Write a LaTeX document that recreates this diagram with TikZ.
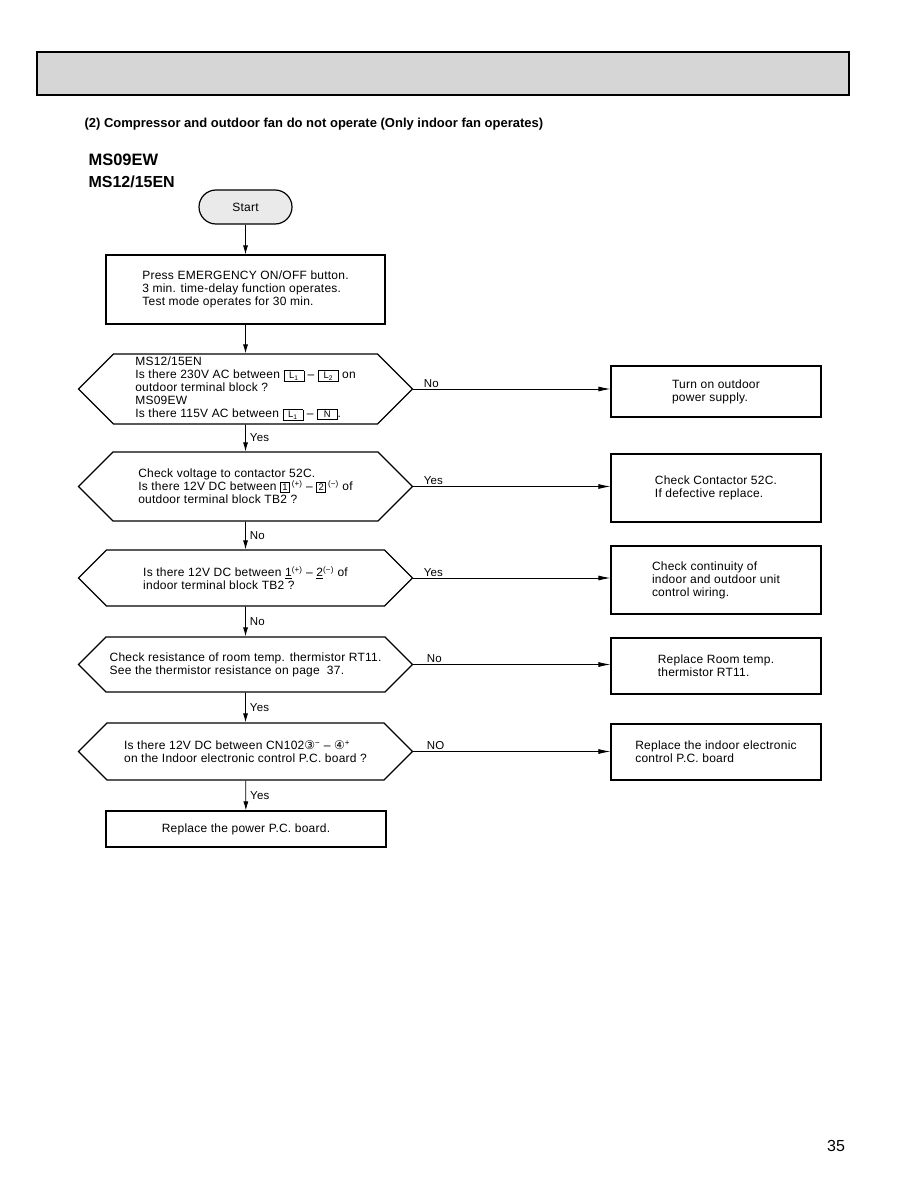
\documentclass[tikz,border=0pt]{standalone}
\usepackage{fontspec}
\setmainfont{Liberation Sans}
\newfontfamily\bodyfont{Liberation Sans}[LetterSpace=2]
\newfontfamily\circfont{DejaVu Sans}
\usetikzlibrary{arrows.meta,positioning,shapes.symbols}
\definecolor{bannergray}{RGB}{214,214,214}
\definecolor{startgray}{RGB}{234,234,234}
% boxed terminal mark
\newcommand{\tbox}[2][17pt]{{\setlength{\fboxsep}{1.2pt}\setlength{\fboxrule}{0.6pt}\fbox{\makebox[#1]{\fontsize{9.5}{10}\selectfont #2}}}}

\begin{document}
\begin{tikzpicture}[x=1pt,y=-1pt,>={Latex[length=9pt,width=5pt]},
    font=\bodyfont\fontsize{12}{13}\selectfont,
    box/.style={draw,line width=1.2pt,minimum width=210pt,align=left,inner sep=0pt},
    dec/.style={draw,line width=1.2pt,signal,signal to=west and east,signal pointer angle=90,
      minimum width=334pt,align=left,inner sep=0pt},
    arr/.style={->,line width=.8pt},
    harr/.style={-{Latex[length=12pt,width=5pt]},line width=.8pt},
    lbl/.style={font=\bodyfont\fontsize{11.5}{13}\selectfont,inner sep=1pt}]
  \useasboundingbox (0,0) rectangle (918,1188);
  % heading
  \node[draw,line width=1.8pt,fill=bannergray,minimum width=812pt,minimum height=43pt,inner sep=0pt] (banner) at (443,73.5) {};
  \node[anchor=west,font=\normalfont\bfseries\fontsize{13}{15}\selectfont] (title) at (81,124)
    {(2) Compressor and outdoor fan do not operate (Only indoor fan operates)};
  \node[anchor=west,font=\normalfont\bfseries\fontsize{16.5}{19}\selectfont] (m1) at (85,160) {MS09EW};
  \node[anchor=west,font=\normalfont\bfseries\fontsize{16}{19}\selectfont] (m2) at (85,182) {MS12/15EN};
  % main column
  \node[draw,line width=1.2pt,rounded corners=17pt,fill=startgray,minimum width=93pt,minimum height=34pt] (start) at (245.5,207) {Start};
  \node[box,minimum width=279pt,minimum height=69pt] (press) at (245.5,289.5)
    {Press EMERGENCY ON/OFF button.\\3 min. time-delay function operates.\\Test mode operates for 30 min.};
  \node[dec,minimum height=70pt] (q1) at (245.5,389)
    {MS12/15EN\\Is there 230V AC between \tbox{L\textsubscript{1}} – \tbox{L\textsubscript{2}} on\\outdoor terminal block ?\\MS09EW\\Is there 115V AC between \tbox{L\textsubscript{1}} – \tbox{N}.};
  \node[dec,minimum height=69pt] (q2) at (245.5,486.5)
    {Check voltage to contactor 52C.\\Is there 12V DC between \tbox[6pt]{1}\,\textsuperscript{(+)} – \tbox[6pt]{2}\,\textsuperscript{(−)} of\\outdoor terminal block TB2 ?};
  \node[dec,minimum height=56pt] (q3) at (245.5,578)
    {Is there 12V DC between \underline{1}\textsuperscript{(+)} – \underline{2}\textsuperscript{(−)} of\\indoor terminal block TB2 ?};
  \node[dec,minimum height=55pt] (q4) at (245.5,664.5)
    {Check resistance of room temp. thermistor RT11.\\See the thermistor resistance on page\ \ 37.};
  \node[dec,minimum height=57pt] (q5) at (245.5,751.5)
    {Is there 12V DC between CN102{\circfont ③}\textsuperscript{−} – {\circfont ④}\textsuperscript{+}\\on the Indoor electronic control P.C. board ?};
  \node[box,minimum width=280pt,minimum height=36pt] (board) at (246,829) {Replace the power P.C. board.};
  % right column
  \node[box,minimum height=51pt] (r1) at (716,391.5) {Turn on outdoor\\power supply.};
  \node[box,minimum height=68pt] (r2) at (716,488) {Check Contactor 52C.\\If defective replace.};
  \node[box,minimum height=68pt] (r3) at (716,580) {Check continuity of\\indoor and outdoor unit\\control wiring.};
  \node[box,minimum height=56pt] (r4) at (716,666) {Replace Room temp.\\thermistor RT11.};
  \node[box,minimum height=56pt] (r5) at (716,752) {Replace the indoor electronic\\control P.C. board};
  % connectors
  \draw[arr] (start) -- (press);
  \draw[arr] (press) -- (q1);
  \draw[arr] (q1) -- node[lbl,right=3pt]{Yes} (q2);
  \draw[arr] (q2) -- node[lbl,right=3pt]{No} (q3);
  \draw[arr] (q3) -- node[lbl,right=3pt]{No} (q4);
  \draw[arr] (q4) -- node[lbl,right=3pt]{Yes} (q5);
  \draw[arr] (q5) -- node[lbl,right=3pt]{Yes} (board);
  \draw[harr] (q1.east) -- node[lbl,above right,pos=0,xshift=9pt]{No} (q1.east -| r1.west);
  \draw[harr] (q2.east) -- node[lbl,above right,pos=0,xshift=9pt]{Yes} (q2.east -| r2.west);
  \draw[harr] (q3.east) -- node[lbl,above right,pos=0,xshift=9pt]{Yes} (q3.east -| r3.west);
  \draw[harr] (q4.east) -- node[lbl,above right,pos=0,xshift=12pt]{No} (q4.east -| r4.west);
  \draw[harr] (q5.east) -- node[lbl,above right,pos=0,xshift=12pt]{NO} (q5.east -| r5.west);
  \node[font=\normalfont\fontsize{16}{18}\selectfont] (pg) at (836,1146) {35};
\end{tikzpicture}
\end{document}
